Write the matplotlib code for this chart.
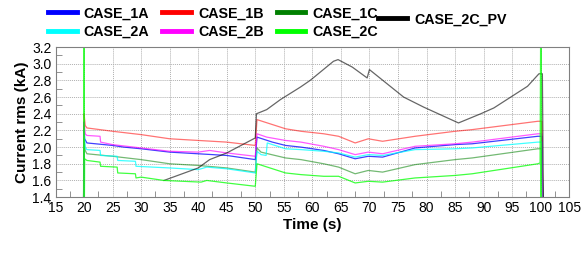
import matplotlib
matplotlib.use("Agg")
import matplotlib.pyplot as plt
from matplotlib.lines import Line2D
from matplotlib.ticker import MultipleLocator

plt.rcParams['font.family'] = ['Liberation Sans', 'DejaVu Sans']

# ---- data ----
t_1A = [19.9, 20.0, 20.1, 20.5, 25, 27, 30, 35, 40, 45, 50.0, 50.3, 53, 55.3, 58, 62, 64.6, 67.5, 69.8, 72.3, 78, 85, 88, 99.5, 100.2, 100.4]
v_1A = [1.20, 2.30, 2.10, 2.05, 2.02, 2.00, 1.98, 1.94, 1.92, 1.90, 1.85, 2.12, 2.06, 2.02, 2.00, 1.96, 1.92, 1.86, 1.89, 1.88, 1.99, 2.03, 2.04, 2.13, 2.13, 1.20]

t_1B = [19.9, 20.0, 20.2, 20.5, 25, 30, 35, 40, 45, 50.0, 50.3, 55.3, 58, 62, 64.6, 67.5, 69.8, 72.3, 78, 85, 88, 99.5, 100.2, 100.4]
v_1B = [1.20, 2.40, 2.26, 2.23, 2.19, 2.15, 2.10, 2.08, 2.06, 2.02, 2.33, 2.22, 2.19, 2.16, 2.13, 2.05, 2.10, 2.07, 2.13, 2.19, 2.21, 2.31, 2.31, 1.20]

t_1C = [19.9, 20.0, 20.2, 20.5, 25, 30, 35, 40, 45, 50.0, 50.3, 51, 55.3, 58, 62, 64.6, 67.5, 69.8, 72.3, 78, 85, 88, 99.5, 100.2, 100.4]
v_1C = [1.20, 2.10, 1.96, 1.92, 1.89, 1.85, 1.80, 1.78, 1.75, 1.70, 1.99, 1.94, 1.87, 1.85, 1.80, 1.76, 1.68, 1.72, 1.70, 1.79, 1.85, 1.87, 1.98, 1.98, 1.20]

t_2A = [19.9, 20.0, 20.2, 20.5, 22.8, 22.9, 25.8, 25.9, 29.0, 29.1, 35, 40, 41.5, 45, 50.0, 50.3, 51, 51.9, 52.1, 53, 55.3, 58, 62, 64.6, 67.5, 69.8, 72.3, 78, 85, 88, 99.5, 100.2, 100.4]
v_2A = [1.20, 2.20, 2.00, 1.97, 1.96, 1.90, 1.89, 1.84, 1.83, 1.77, 1.75, 1.73, 1.76, 1.74, 1.69, 1.95, 1.91, 1.90, 2.05, 2.03, 1.98, 1.97, 1.95, 1.93, 1.88, 1.91, 1.90, 1.97, 1.98, 1.99, 2.06, 2.06, 1.20]

t_2B = [19.9, 20.0, 20.2, 20.5, 22.8, 22.9, 25, 30, 35, 40, 42, 45, 50.0, 50.3, 52, 55.3, 58, 62, 64.6, 67.5, 69.8, 72.3, 78, 85, 88, 99.5, 100.2, 100.4]
v_2B = [1.20, 2.30, 2.16, 2.14, 2.13, 2.06, 2.03, 1.99, 1.95, 1.94, 1.96, 1.93, 1.89, 2.16, 2.12, 2.08, 2.06, 2.01, 1.97, 1.91, 1.94, 1.92, 2.01, 2.04, 2.06, 2.16, 2.16, 1.20]

t_2C = [19.9, 20.0, 20.05, 20.1, 20.5, 22.8, 22.9, 25.8, 25.9, 29.0, 29.1, 30, 34, 40.5, 41.5, 45, 50.0, 50.3, 55.3, 58, 62, 64.6, 67.5, 69.8, 72.3, 78, 85, 88, 99.5, 99.9, 100.0, 100.05, 100.1, 100.15]
v_2C = [1.20, 3.40, 1.20, 1.86, 1.84, 1.82, 1.77, 1.76, 1.69, 1.68, 1.63, 1.64, 1.60, 1.58, 1.60, 1.57, 1.53, 1.80, 1.69, 1.67, 1.65, 1.65, 1.57, 1.59, 1.58, 1.63, 1.66, 1.68, 1.80, 1.81, 3.40, 1.20, 3.40, 1.20]

t_PV = [34, 40, 42, 45, 50.0, 50.2, 52, 54.4, 57.9, 59.6, 60.5, 63.7, 64.5, 67, 69.6, 70.0, 76, 79.5, 85.6, 89.5, 91.8, 97.7, 99.7, 100.3, 100.5]
v_PV = [1.60, 1.75, 1.85, 1.93, 2.11, 2.40, 2.45, 2.57, 2.72, 2.80, 2.85, 3.03, 3.05, 2.96, 2.83, 2.93, 2.60, 2.48, 2.29, 2.40, 2.47, 2.73, 2.88, 2.88, 1.20]

series = [
    ("CASE_1A", t_1A, v_1A, "#0000ff", 0.75),
    ("CASE_1B", t_1B, v_1B, "#ff0000", 0.55),
    ("CASE_1C", t_1C, v_1C, "#008000", 0.55),
    ("CASE_2A", t_2A, v_2A, "#00ffff", 0.75),
    ("CASE_2B", t_2B, v_2B, "#ff00ff", 0.65),
    ("CASE_2C_PV", t_PV, v_PV, "#000000", 0.6),
    ("CASE_2C", t_2C, v_2C, "#00ff00", 0.75),
]

fig = plt.figure(figsize=(5.82, 2.56), dpi=100)
ax = fig.add_axes([0.0954, 0.230, 0.8826, 0.586])

handles = {}
for name, t, v, c, a in series:
    ax.plot(t, v, color=c, lw=0.9, alpha=a)
    handles[name] = Line2D([], [], color=c, lw=3.5)

ax.set_xlim(15, 105)
ax.set_ylim(1.4, 3.2)
ax.xaxis.set_minor_locator(MultipleLocator(2.5))
ax.yaxis.set_minor_locator(MultipleLocator(0.1))
ax.set_xticks(range(15, 106, 5))
ax.set_xticklabels([str(x) for x in range(15, 106, 5)])
ax.set_yticks([1.4 + 0.2 * i for i in range(10)])
ax.set_yticklabels(["%.1f" % (1.4 + 0.2 * i) for i in range(10)])
ax.grid(True, which='major', color='#b0b0b0', linestyle=(0, (1, 1)), lw=0.7)
ax.tick_params(which='both', direction='in', color='#808080', labelsize=10, pad=3)
ax.tick_params(which='major', length=0)
ax.tick_params(which='minor', length=4)
for s in ax.spines.values():
    s.set_color('#808080')
    s.set_linewidth(0.8)

ax.set_xlabel("Time (s)", fontsize=11, fontweight='bold', labelpad=2)
ax.set_ylabel("Current rms (kA)", fontsize=11, fontweight='bold', labelpad=2)

order = ["CASE_1A", "CASE_2A", "CASE_1B", "CASE_2B", "CASE_1C", "CASE_2C"]
fig.legend([handles[n] for n in order], order, ncol=3, loc='center left',
           bbox_to_anchor=(0.0825, 0.912), frameon=False,
           prop={'weight': 'bold', 'size': 10.3}, handlelength=2.0,
           handletextpad=0.5, columnspacing=0.9, labelspacing=0.3,
           borderaxespad=0, borderpad=0)
fig.legend([handles["CASE_2C_PV"]], ["CASE_2C_PV"], loc='center left',
           bbox_to_anchor=(0.65, 0.924), frameon=False,
           prop={'weight': 'bold', 'size': 10.3}, handlelength=2.0,
           handletextpad=0.5, borderaxespad=0, borderpad=0)

fig.savefig("out.png", dpi=100)
